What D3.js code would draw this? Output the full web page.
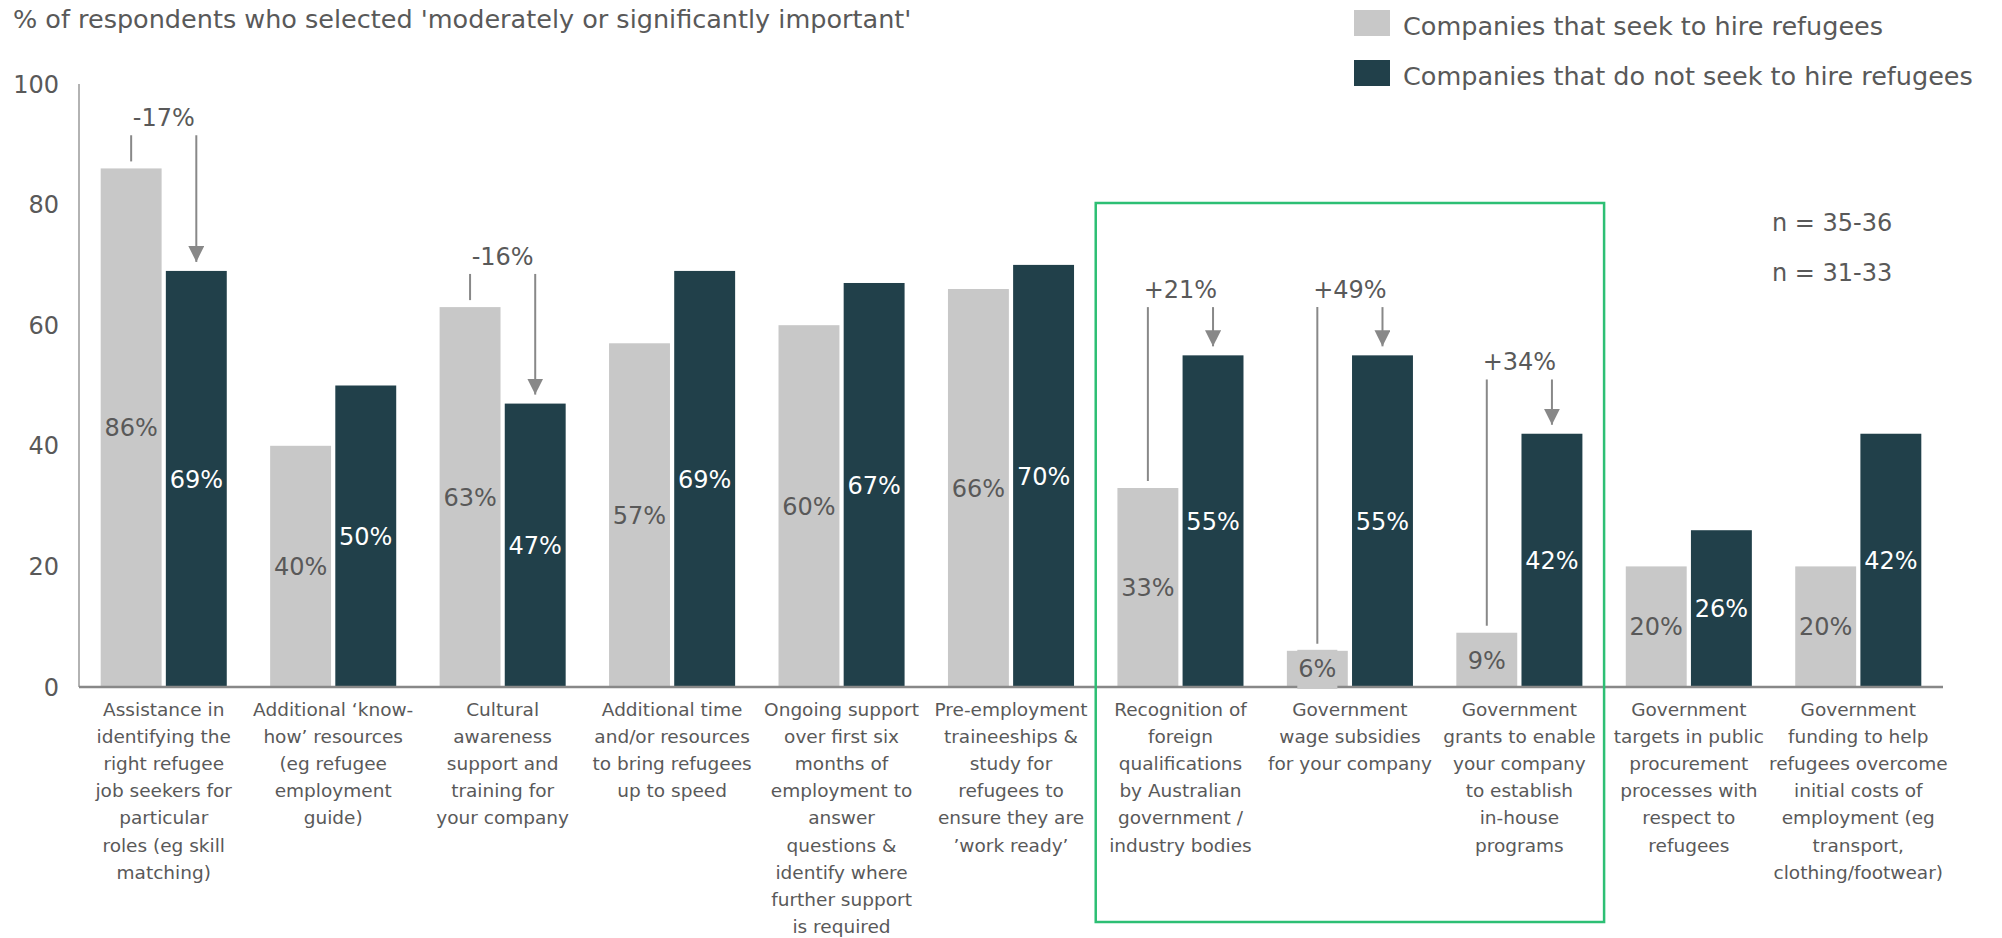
<!DOCTYPE html>
<html>
<head>
<meta charset="utf-8">
<script src="https://cdn.jsdelivr.net/npm/d3@7/dist/d3.min.js"></script>
<style>
  html, body { margin: 0; padding: 0; background: #ffffff; }
  svg { display: block; font-family: "DejaVu Sans", sans-serif; }
</style>
</head>
<body>
<svg id="chart" width="2002" height="938"></svg>
<script>
// ---- data -------------------------------------------------------------
const categories = [
  ["Assistance in", "identifying the", "right refugee", "job seekers for", "particular", "roles (eg skill", "matching)"],
  ["Additional \u2018know-", "how\u2019 resources", "(eg refugee", "employment", "guide)"],
  ["Cultural", "awareness", "support and", "training for", "your company"],
  ["Additional time", "and/or resources", "to bring refugees", "up to speed"],
  ["Ongoing support", "over first six", "months of", "employment to", "answer", "questions &", "identify where", "further support", "is required"],
  ["Pre-employment", "traineeships &", "study for", "refugees to", "ensure they are", "\u2019work ready\u2019"],
  ["Recognition of", "foreign", "qualifications", "by Australian", "government /", "industry bodies"],
  ["Government", "wage subsidies", "for your company"],
  ["Government", "grants to enable", "your company", "to establish", "in-house", "programs"],
  ["Government", "targets in public", "procurement", "processes with", "respect to", "refugees"],
  ["Government", "funding to help", "refugees overcome", "initial costs of", "employment (eg", "transport,", "clothing/footwear)"]
];

const seriesNames = ["Companies that seek to hire refugees", "Companies that do not seek to hire refugees"];
const seekValues    = [86, 40, 63, 57, 60, 66, 33, 6, 9, 20, 20];
const notSeekValues = [69, 50, 47, 69, 67, 70, 55, 55, 42, 26, 42];

const yTicks = [0, 20, 40, 60, 80, 100];
const sampleSizes = ["n = 35-36", "n = 31-33"];

// difference call-outs: category index, text, level of the bracket top (in %)
const callouts = [
  { cat: 0, text: "-17%", level: 91.5 },
  { cat: 2, text: "-16%", level: 68.5 },
  { cat: 6, text: "+21%", level: 63 },
  { cat: 7, text: "+49%", level: 63 },
  { cat: 8, text: "+34%", level: 51 }
];

// government-support categories highlighted with a frame
const highlighted = [6, 8];

// ---- styling ----------------------------------------------------------
const colSeek = "#c8c8c8";
const colNot  = "#21404a";
const textCol = "#595959";
const lineCol = "#888888";
const frameCol = "#2dbf74";

const svg = d3.select("#chart");

const x0 = d3.scaleBand()
  .domain(d3.range(categories.length))
  .range([79, 1943])
  .paddingInner(0.256)
  .paddingOuter(0.128);

const x1 = d3.scaleBand()
  .domain([0, 1])
  .range([0, x0.bandwidth()])
  .paddingInner(0.065);

const y = d3.scaleLinear().domain([0, 100]).range([687, 84]);

const rows = categories.map((c, i) => ({ i, vals: [seekValues[i], notSeekValues[i]] }));

// ---- title ------------------------------------------------------------
svg.append("text")
  .attr("x", 13).attr("y", 28)
  .attr("fill", textCol)
  .style("font-size", "25.5px")
  .text("% of respondents who selected 'moderately or significantly important'");

// ---- legend -----------------------------------------------------------
const legend = svg.append("g");
seriesNames.forEach((name, k) => {
  const g = legend.append("g").attr("transform", `translate(1354, ${10 + k * 50})`);
  g.append("rect").attr("width", 36).attr("height", 26).attr("fill", k === 0 ? colSeek : colNot);
  g.append("text").attr("x", 49).attr("y", 25)
    .attr("fill", textCol).style("font-size", "25.5px").text(name);
});

// ---- sample sizes -----------------------------------------------------
sampleSizes.forEach((s, k) => {
  svg.append("text").attr("x", 1772).attr("y", 223 + k * 50).attr("dy", "0.35em")
    .attr("fill", textCol).style("font-size", "24px").text(s);
});

// ---- y axis -----------------------------------------------------------
svg.append("line")
  .attr("x1", 79).attr("x2", 79).attr("y1", y(100)).attr("y2", y(0))
  .attr("stroke", "#9a9a9a").attr("stroke-width", 1.5);

svg.append("g").selectAll("text").data(yTicks).join("text")
  .attr("x", 59).attr("y", d => y(d)).attr("dy", "0.36em")
  .attr("text-anchor", "end").attr("fill", textCol)
  .style("font-size", "24px").text(d => d);

// ---- bars -------------------------------------------------------------
const groups = svg.append("g").selectAll("g").data(rows).join("g")
  .attr("transform", d => `translate(${x0(d.i)},0)`);

groups.selectAll("rect").data(d => d.vals).join("rect")
  .attr("x", (v, k) => x1(k))
  .attr("y", v => y(v))
  .attr("width", x1.bandwidth())
  .attr("height", v => y(0) - y(v))
  .attr("fill", (v, k) => k === 0 ? colSeek : colNot);

// ---- x axis -----------------------------------------------------------
svg.append("line")
  .attr("x1", 79).attr("x2", 1943).attr("y1", y(0)).attr("y2", y(0))
  .attr("stroke", lineCol).attr("stroke-width", 2.5);

// ---- value labels -----------------------------------------------------
const labelLayer = svg.append("g");
rows.forEach(d => {
  d.vals.forEach((v, k) => {
    const cx = x0(d.i) + x1(k) + x1.bandwidth() / 2;
    const cy = (y(v) + y(0)) / 2 + (v < 8 ? -1 : 0);
    const t = labelLayer.append("text")
      .attr("x", cx).attr("y", cy).attr("dy", "0.36em")
      .attr("text-anchor", "middle")
      .attr("fill", k === 0 ? textCol : "#ffffff")
      .style("font-size", "24px")
      .text(v + "%");
    // small bars get a backing box so the label stays readable
    if (y(0) - y(v) < 40) {
      const bb = t.node().getBBox();
      labelLayer.insert("rect", () => t.node())
        .attr("x", bb.x - 1).attr("y", y(v) - 1)
        .attr("width", bb.width + 2).attr("height", y(0) - y(v) + 3)
        .attr("fill", k === 0 ? colSeek : colNot);
    }
  });
});

// ---- category labels --------------------------------------------------
const catLayer = svg.append("g");
categories.forEach((lines, i) => {
  const t = catLayer.append("text")
    .attr("text-anchor", "middle").attr("fill", textCol)
    .style("font-size", "18.5px");
  lines.forEach((ln, j) => {
    t.append("tspan")
      .attr("x", x0(i) + x0.bandwidth() / 2)
      .attr("y", 716 + j * 27.1)
      .text(ln);
  });
});

// ---- difference call-outs --------------------------------------------
const defs = svg.append("defs");
defs.append("marker")
  .attr("id", "arrowhead")
  .attr("viewBox", "0 0 16 16")
  .attr("refX", 8).attr("refY", 16)
  .attr("markerWidth", 16).attr("markerHeight", 16)
  .attr("markerUnits", "userSpaceOnUse")
  .attr("orient", "0")
  .append("path").attr("d", "M0,0 L16,0 L8,16 Z").attr("fill", lineCol);

const calloutLayer = svg.append("g");
callouts.forEach(c => {
  const top = y(c.level);
  const xa = x0(c.cat) + x1(0) + x1.bandwidth() / 2;
  const xb = x0(c.cat) + x1(1) + x1.bandwidth() / 2;
  calloutLayer.append("line")
    .attr("x1", xa).attr("x2", xa).attr("y1", top).attr("y2", y(seekValues[c.cat]) - 7)
    .attr("stroke", lineCol).attr("stroke-width", 2);
  calloutLayer.append("line")
    .attr("x1", xb).attr("x2", xb).attr("y1", top).attr("y2", y(notSeekValues[c.cat]) - 9)
    .attr("stroke", lineCol).attr("stroke-width", 2)
    .attr("marker-end", "url(#arrowhead)");
  calloutLayer.append("text")
    .attr("x", x0(c.cat) + x0.bandwidth() / 2).attr("y", top - 18).attr("dy", "0.36em")
    .attr("text-anchor", "middle").attr("fill", textCol)
    .style("font-size", "24px").text(c.text);
});

// ---- highlight frame --------------------------------------------------
const step = x0.step();
const frameLeft = x0(highlighted[0]) - (step - x0.bandwidth()) / 2;
const frameRight = x0(highlighted[1]) + x0.bandwidth() + (step - x0.bandwidth()) / 2;
svg.append("rect")
  .attr("x", frameLeft).attr("y", 203)
  .attr("width", frameRight - frameLeft).attr("height", 922 - 203)
  .attr("fill", "none").attr("stroke", frameCol).attr("stroke-width", 2.5);
</script>
</body>
</html>
